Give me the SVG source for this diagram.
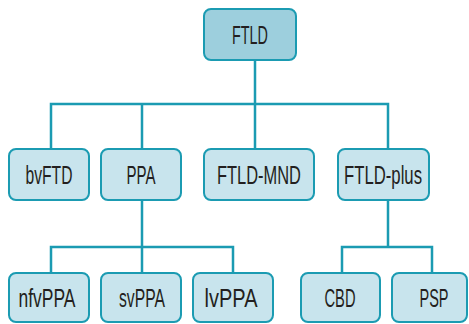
<svg xmlns="http://www.w3.org/2000/svg" width="469" height="324" viewBox="0 0 469 324">
<style>
.box{fill:#c8e4ed;stroke:#1b9bb2;stroke-width:2}
.root{fill:#9dcfdd}
.lbl{font-family:"Liberation Sans",Arial,sans-serif;font-size:25.5px;fill:#231f20;text-anchor:middle}
.ln{fill:none;stroke:#1b9bb2;stroke-width:2.5}
</style>
<rect width="469" height="324" fill="#ffffff"/>
<g id="connectors">
<path class="ln" d="M255,60V149M51,149V104H388V149M142,104V149"/>
<path class="ln" d="M142,200V247M51,273V247H233V273M142,247V273"/>
<path class="ln" d="M388,200V247M342,273V247H432V273"/>
</g>
<g id="FTLD"><rect class="box root" x="204" y="9" width="92" height="51" rx="7"/><text class="lbl" x="250" y="43.5" textLength="36" lengthAdjust="spacingAndGlyphs">FTLD</text></g>
<g id="bvFTD"><rect class="box" x="9" y="149" width="80" height="51" rx="7"/><text class="lbl" x="49" y="183.5" textLength="47" lengthAdjust="spacingAndGlyphs">bvFTD</text></g>
<g id="PPA"><rect class="box" x="101" y="149" width="80" height="51" rx="7"/><text class="lbl" x="141" y="183.5" textLength="29" lengthAdjust="spacingAndGlyphs">PPA</text></g>
<g id="FTLD-MND"><rect class="box" x="204" y="149" width="110" height="51" rx="7"/><text class="lbl" x="259" y="183.5" textLength="84" lengthAdjust="spacingAndGlyphs">FTLD-MND</text></g>
<g id="FTLD-plus"><rect class="box" x="338" y="149" width="91" height="51" rx="7"/><text class="lbl" x="383" y="183.5" textLength="78" lengthAdjust="spacingAndGlyphs">FTLD-plus</text></g>
<g id="nfvPPA"><rect class="box" x="9" y="273" width="80" height="49" rx="7"/><text class="lbl" x="47" y="307" textLength="57" lengthAdjust="spacingAndGlyphs">nfvPPA</text></g>
<g id="svPPA"><rect class="box" x="101" y="273" width="80" height="49" rx="7"/><text class="lbl" x="142" y="307" textLength="46" lengthAdjust="spacingAndGlyphs">svPPA</text></g>
<g id="lvPPA"><rect class="box" x="193" y="273" width="80" height="49" rx="7"/><text class="lbl" x="231" y="307" textLength="53" lengthAdjust="spacingAndGlyphs">lvPPA</text></g>
<g id="CBD"><rect class="box" x="301" y="273" width="79" height="49" rx="7"/><text class="lbl" x="340" y="307" textLength="31" lengthAdjust="spacingAndGlyphs">CBD</text></g>
<g id="PSP"><rect class="box" x="392" y="273" width="75" height="49" rx="7"/><text class="lbl" x="434" y="307" textLength="29" lengthAdjust="spacingAndGlyphs">PSP</text></g>
</svg>
